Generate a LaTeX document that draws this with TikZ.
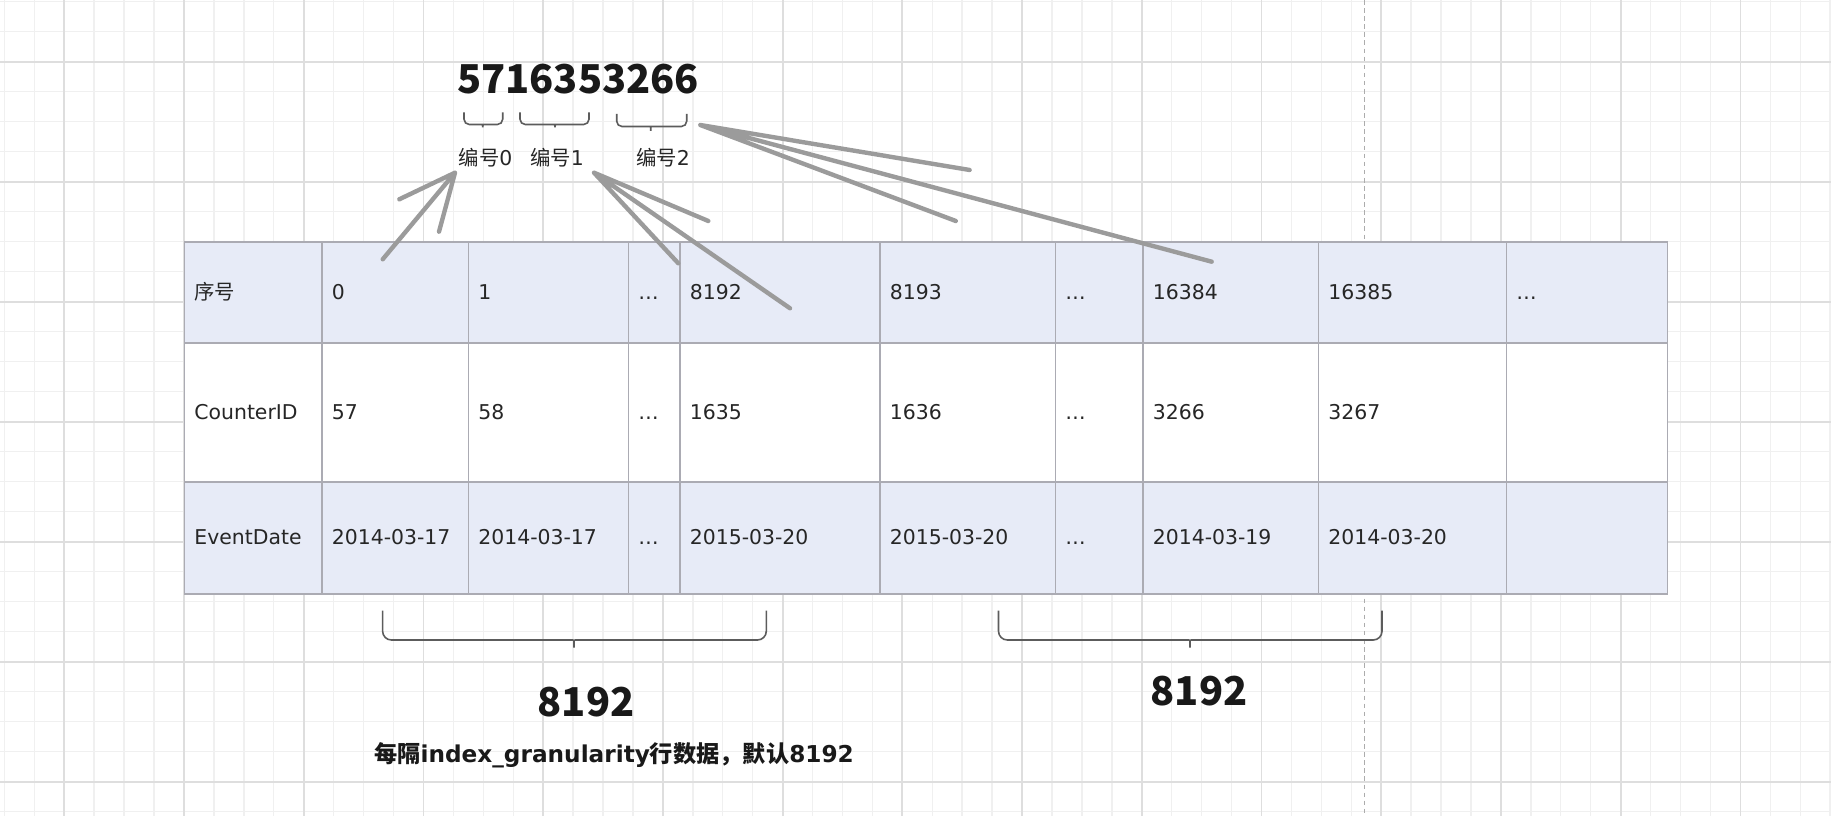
\documentclass[tikz,border=0pt]{standalone}
\usepackage{fontspec}
\setmainfont{DejaVu Sans}
\newfontfamily\cjk{Noto Sans CJK SC}

\definecolor{rowfill}{HTML}{E7EBF7}
\definecolor{cellline}{HTML}{ABABB3}
\definecolor{pencil}{HTML}{9B9B9B}
\definecolor{bracket}{HTML}{5C5C5C}
\definecolor{gridminor}{HTML}{F0F0F0}
\definecolor{gridmajor}{HTML}{DEDEDE}

\begin{document}
\begin{tikzpicture}[x=0.01cm, y=-0.01cm,
    cell/.style={draw=cellline, line width=0.45pt, inner sep=0pt},
    celltext/.style={anchor=base west, inner sep=0pt, font=\fontsize{5.8}{7}\selectfont, text=black!85},
    tag/.style={inner sep=0pt, font=\fontsize{5.8}{7}\selectfont, text=black!85},
    bignum/.style={inner sep=0pt, font=\cjk\bfseries\fontsize{11.3}{13}\selectfont, text=black!90},
    pen/.style={draw=pencil, line width=1.25pt, line cap=round, line join=round},
    curly/.style={draw=bracket, line width=0.45pt, rounded corners=1.5pt}]

                \useasboundingbox (0,0) rectangle (1831,816);
                \fill[white] (0,0) rectangle (1831,816);

                % background grid
                \foreach \k in {0,...,61}
                    \draw[gridminor, line width=0.4pt] ({4.4+29.93*\k},0) -- ({4.4+29.93*\k},816);
                \foreach \k in {0,...,27}
                    \draw[gridminor, line width=0.4pt] (0,{1.7+30*\k}) -- (1831,{1.7+30*\k});
                \foreach \k in {0,...,14}
                    \draw[gridmajor, line width=0.5pt] ({64.3+119.72*\k},0) -- ({64.3+119.72*\k},816);
                \foreach \k in {0,...,6}
                    \draw[gridmajor, line width=0.5pt] (0,{61.7+120*\k}) -- (1831,{61.7+120*\k});
                \draw[gray!65, line width=0.4pt, dash pattern=on 1.3pt off 1pt] (1364.3,0) -- (1364.3,816);

                % table
                \foreach \r/\ya/\yb/\bg in {1/242/343/rowfill, 2/343/482/white, 3/482/594/rowfill}
                    \foreach \xa/\xb [count=\c] in {184.5/322, 322/468.5, 468.5/628.5, 628.5/680, 680/880, 880/1055.5, 1055.5/1143, 1143/1318.5, 1318.5/1506.5, 1506.5/1667.5}
                        \node[cell, fill=\bg, minimum width={(\xb-\xa)*0.01cm}, minimum height={(\yb-\ya)*0.01cm}] (c\r-\c) at ({(\xa+\xb)/2},{(\ya+\yb)/2}) {};

                \foreach \t [count=\c] in {{\cjk 序号},0,1,…,8192,8193,…,16384,16385,…}
                    \node[celltext] (t1-\c) at ([xshift=1mm, yshift=-1.95pt]c1-\c.west) {\t};
                \foreach \t [count=\c] in {CounterID,57,58,…,1635,1636,…,3266,3267}
                    \node[celltext] (t2-\c) at ([xshift=1mm, yshift=-1.95pt]c2-\c.west) {\t};
                \foreach \t [count=\c] in {EventDate,2014-03-17,2014-03-17,…,2015-03-20,2015-03-20,…,2014-03-19,2014-03-20}
                    \node[celltext] (t3-\c) at ([xshift=1mm, yshift=-1.95pt]c3-\c.west) {\t};

                % mark number and its parts
                \node[bignum] (code) at (578,79) {5716353266};
                \draw[curly] (464,112.5) -- (464,124.5) -- (478.7,124.5) .. controls (482.7,124.5) and (482.7,124.5) .. (482.7,130.5) .. controls (482.7,124.5) and (482.7,124.5) .. (486.7,124.5) -- (502.7,124.5) -- (502.7,112.5);
                \draw[curly] (520,112.5) -- (520,124.5) -- (551,124.5) .. controls (555,124.5) and (555,124.5) .. (555,130.5) .. controls (555,124.5) and (555,124.5) .. (559,124.5) -- (589,124.5) -- (589,112.5);
                \draw[curly] (616.7,114) -- (616.7,126.5) -- (646.7,126.5) .. controls (650.7,126.5) and (650.7,126.5) .. (650.7,134) .. controls (650.7,126.5) and (650.7,126.5) .. (654.7,126.5) -- (686.7,126.5) -- (686.7,114);
                \node[tag] (n0) at (485.5,158) {{\cjk 编号}0};
                \node[tag] (n1) at (557,158) {{\cjk 编号}1};
                \node[tag] (n2) at (663,158) {{\cjk 编号}2};

                % sketched arrows
                \coordinate (tip0) at (455,172.7);
                \coordinate (tip1) at (594,172.7);
                \coordinate (tip2) at (700.3,125);
                \coordinate (tail0) at (382.7,259.3);
                \coordinate (tail1) at (790,308.3);
                \coordinate (tail2) at (1211.7,261.7);
                \draw[pen] (tail0) -- (tip0) -- ++(-55.7,26.6) (tip0) -- ++(-16,59);
                \draw[pen] (tail1) -- (tip1) -- ++(114.3,48.3) (tip1) -- ++(84.3,90.6);
                \draw[pen] (tail2) -- (tip2) -- ++(269.3,45) (tip2) -- ++(255.5,96);

                % granules
                \draw[curly, rounded corners=2.5pt] (382.6,610.7) -- (382.6,640) -- (564,640) .. controls (574,640) and (574,640) .. (574,652.7) .. controls (574,640) and (574,640) .. (584,640) -- (766.3,640) -- (766.3,610.7);
                \draw[curly, rounded corners=2.5pt] (998.5,610.7) -- (998.5,640) -- (1180,640) .. controls (1190,640) and (1190,640) .. (1190,652.7) .. controls (1190,640) and (1190,640) .. (1200,640) -- (1382,640) -- (1382,610.7);
                \node[bignum] (cntA) at (586,702) {8192};
                \node[bignum] (cntB) at (1199,691) {8192};
                \node[inner sep=0pt, font=\bfseries\fontsize{6.6}{8}\selectfont, text=black!90] (rule) at (614,755) {{\cjk 每隔}index\_granularity{\cjk 行数据，默认}8192};
            \end{tikzpicture}
\end{document}
